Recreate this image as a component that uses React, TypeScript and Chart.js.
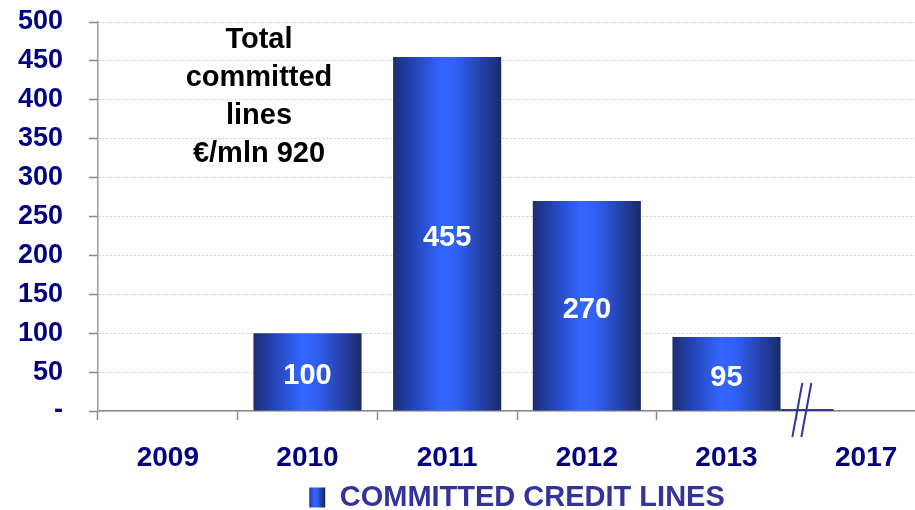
import { useEffect, useRef } from 'react';
import { Chart, registerables } from 'chart.js';

Chart.register(...registerables);

const categories = ['2009', '2010', '2011', '2012', '2013', '2017'];
const committedLines = [0, 100, 455, 270, 95, 0];
const valueLabels = ['', '100', '455', '270', '95', ''];
const noteLines = ['Total', 'committed', 'lines', '€/mln 920'];
const seriesName = 'COMMITTED CREDIT LINES';
const yMax = 500;
const yStep = 50;

const FONT = "'Liberation Sans', Arial, Helvetica, sans-serif";
const BAR_PCT = 0.774;

function barGradient(ctx: CanvasRenderingContext2D, x0: number, x1: number) {
  const g = ctx.createLinearGradient(x0, 0, x1, 0);
  g.addColorStop(0, '#1b2d72');
  g.addColorStop(0.18, '#2443b4');
  g.addColorStop(0.45, '#3366ff');
  g.addColorStop(0.58, '#3160f2');
  g.addColorStop(0.85, '#233d9e');
  g.addColorStop(1, '#1a2a66');
  return g;
}

const overlayPlugin = {
  id: 'overlay',
  afterLayout(chart: any) {
    const lg = chart.legend;
    if (lg) {
      lg.top += 12;
      lg.bottom += 12;
    }
  },
  afterDatasetsDraw(chart: any) {
    const { ctx, chartArea, scales } = chart;
    const xs = scales.x;
    const ys = scales.y;
    ctx.save();
    // value labels
    ctx.fillStyle = '#ffffff';
    ctx.font = `bold 29px ${FONT}`;
    ctx.textAlign = 'center';
    ctx.textBaseline = 'middle';
    committedLines.forEach((v, i) => {
      if (!valueLabels[i]) return;
      const x = xs.getPixelForValue(i);
      const y = (ys.getPixelForValue(v) + ys.getPixelForValue(0)) / 2;
      ctx.fillText(valueLabels[i], x, y + 4);
    });
    // note
    ctx.fillStyle = '#000000';
    ctx.textBaseline = 'alphabetic';
    const nx = chartArea.left + 161;
    noteLines.forEach((t, i) => {
      ctx.fillText(t, nx, chartArea.top + 26 + i * 38);
    });
    // axis break mark between 2013 and 2017
    const step = xs.getPixelForValue(5) - xs.getPixelForValue(4);
    const barRight = xs.getPixelForValue(4) + (step * BAR_PCT) / 2;
    const y0 = ys.getPixelForValue(0);
    ctx.strokeStyle = '#34349e';
    ctx.lineWidth = 2;
    ctx.beginPath();
    ctx.moveTo(barRight, y0 - 1);
    ctx.lineTo(barRight + 53, y0 - 1);
    ctx.stroke();
    const bx = xs.getPixelForValue(4) + step / 2;
    [1, 10].forEach((dx) => {
      ctx.beginPath();
      ctx.moveTo(bx + dx + 5, y0 - 28);
      ctx.lineTo(bx + dx - 5, y0 + 26);
      ctx.stroke();
    });
    ctx.restore();
  },
};

export default function App() {
  const ref = useRef<HTMLCanvasElement>(null);

  useEffect(() => {
    if (!ref.current) return;
    const chart = new Chart(ref.current, {
      type: 'bar',
      data: {
        labels: categories,
        datasets: [
          {
            label: seriesName,
            data: committedLines,
            backgroundColor: (c: any) => {
              const ch = c.chart;
              const xs = ch.scales?.x;
              if (c.type !== 'data' || !xs) return '#2b4fd0';
              const cx = xs.getPixelForValue(c.dataIndex);
              const half = ((xs.getPixelForValue(1) - xs.getPixelForValue(0)) * BAR_PCT) / 2;
              return barGradient(ch.ctx, cx - half, cx + half);
            },
            borderWidth: 0,
            categoryPercentage: 1,
            barPercentage: BAR_PCT,
          },
        ],
      },
      options: {
        animation: false,
        responsive: false,
        maintainAspectRatio: false,
        layout: { padding: { top: 22, left: 0, right: 0, bottom: 0 } },
        plugins: {
          tooltip: { enabled: false },
          legend: {
            position: 'bottom',
            fullSize: false,
            labels: {
              boxWidth: 16,
              boxHeight: 20,
              padding: 2,
              color: '#333399',
              font: { family: FONT, size: 29, weight: 'bold' },
              generateLabels: (ch: any) => [
                {
                  text: seriesName,
                  fillStyle: barGradient(ch.ctx, 307, 324),
                  strokeStyle: 'rgba(0,0,0,0)',
                  fontColor: '#333399',
                  lineWidth: 0,
                  hidden: false,
                  datasetIndex: 0,
                },
              ],
            },
          },
        },
        scales: {
          x: {
            offset: true,
            afterFit: (s: any) => {
              s.height = 58;
            },
            grid: {
              display: true,
              drawOnChartArea: false,
              drawTicks: true,
              tickLength: 9,
              tickColor: '#8a8a8a',
              tickWidth: 1.5,
              offset: true,
            },
            border: { display: true, color: '#8a8a8a', width: 1.5 },
            ticks: {
              color: '#000080',
              padding: 21,
              maxRotation: 0,
              autoSkip: false,
              font: { family: FONT, size: 28, weight: 'bold' },
            },
          },
          y: {
            min: 0,
            max: yMax,
            afterFit: (s: any) => {
              s.width = 98;
              s.paddingTop = 0;
              s.paddingBottom = 0;
            },
            grid: {
              color: '#cfcfcf',
              lineWidth: 1,
              drawTicks: true,
              tickLength: 9,
              tickColor: '#8a8a8a',
              tickWidth: 1.5,
            },
            border: { display: true, color: '#9a9a9a', width: 1.5, dash: [2, 2] },
            ticks: {
              stepSize: yStep,
              autoSkip: false,
              color: '#000080',
              padding: 26,
              font: { family: FONT, size: 27, weight: 'bold' },
              callback: (v: any) => (Number(v) === 0 ? '-' : String(v)),
            },
          },
        },
      },
      plugins: [overlayPlugin],
    } as any);
    return () => chart.destroy();
  }, []);

  return (
    <div
      style={{
        position: 'absolute',
        left: 0,
        top: 0,
        width: 915,
        height: 510,
        overflow: 'hidden',
        background: '#ffffff',
      }}
    >
      <canvas ref={ref} width={936} height={510} style={{ display: 'block' }} />
    </div>
  );
}
